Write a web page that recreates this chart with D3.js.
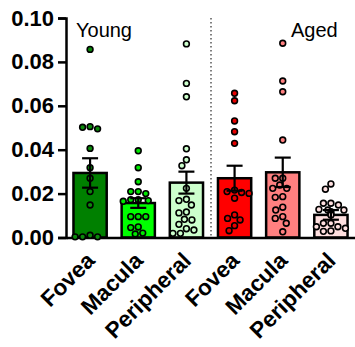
<!DOCTYPE html>
<html>
<head>
<meta charset="utf-8">
<script src="https://cdn.jsdelivr.net/npm/d3@7"></script>
<style>
	body { margin: 0; background: #fff; }
	svg { display: block; font-family: "Liberation Sans", Arial, sans-serif; }
</style>
</head>
<body>
<svg id="chart" width="355" height="347"></svg>
<script>
"use strict";

// DATA
const categories = ["Fovea", "Macula", "Peripheral", "Fovea", "Macula", "Peripheral"];
const groups = ["Young", "Young", "Young", "Aged", "Aged", "Aged"];
const means = [0.0294, 0.0157, 0.025, 0.027, 0.0297, 0.0103];
const sems = [0.0067, 0.0022, 0.005, 0.0057, 0.0067, 0.0022];
const yTicks = [0, 0.02, 0.04, 0.06, 0.08, 0.1];

const youngFovea = [0.0857, 0.0505, 0.0495, 0.0502, 0.0406, 0.0318, 0.027, 0.0209, 0.0148, 0.0003, 0.0003, 0.0003, 0.001];
const youngMacula = [0.0395, 0.0318, 0.0254, 0.0209, 0.02, 0.0209, 0.0172, 0.0168, 0.0165, 0.0172, 0.0095, 0.0095, 0.0095, 0.0048, 0.0045, 0.0016, 0.002];
const youngPeripheral = [0.0882, 0.0702, 0.0641, 0.0404, 0.0354, 0.0327, 0.0224, 0.0174, 0.0168, 0.0148, 0.0112, 0.0116, 0.0083, 0.008, 0.006, 0.0034, 0.0019, 0.0019, 0.004];
const agedFovea = [0.0657, 0.0623, 0.0531, 0.0482, 0.0429, 0.0216, 0.0205, 0.0179, 0.0201, 0.0209, 0.0087, 0.008, 0.0103, 0.0054, 0.0031];
const agedMacula = [0.0885, 0.0713, 0.0664, 0.0444, 0.027, 0.027, 0.0224, 0.0239, 0.0224, 0.0186, 0.0183, 0.0138, 0.0125, 0.0087, 0.0095, 0.0065, 0.0026];
const agedPeripheral = [0.0244, 0.022, 0.0148, 0.0156, 0.0156, 0.0128, 0.0125, 0.0125, 0.0118, 0.0103, 0.0106, 0.0065, 0.0049, 0.0042, 0.0049, 0.0065, 0.003, 0.0028];
const points = [youngFovea, youngMacula, youngPeripheral, agedFovea, agedMacula, agedPeripheral];

// colours
const barColors = ["#008000", "#00ff00", "#ccffcc", "#ff0000", "#ff8080", "#ffe0e0"];
const dotColors = ["#0b8a0b", "#00e600", "#ccffcc", "#e60000", "#ff8080", "#ffe0e0"];

const svg = d3.select("#chart");
const dotR = 2.9;

const x = d3.scaleBand()
	.domain(d3.range(categories.length))
	.range([66, 355])
	.paddingInner(0.31)
	.paddingOuter(0.155);

const y = d3.scaleLinear().domain([0, 0.1]).range([237.5, 18]);

// bars
svg.append("g")
	.selectAll("rect")
	.data(means)
	.join("rect")
	.attr("x", (d, i) => x(i))
	.attr("y", (d) => y(d))
	.attr("width", x.bandwidth())
	.attr("height", (d) => y(0) - y(d))
	.attr("fill", (d, i) => barColors[i])
	.attr("stroke", "#000")
	.attr("stroke-width", 2.5);

// divider between young and aged
svg.append("line")
	.attr("x1", 211).attr("x2", 211)
	.attr("y1", y(0.1)).attr("y2", y(0))
	.attr("stroke", "#555")
	.attr("stroke-width", 1.5)
	.attr("stroke-dasharray", "1.5,2.5");

// y axis
const yAxis = svg.append("g")
	.attr("transform", "translate(66,0)")
	.call(d3.axisLeft(y).tickValues(yTicks).tickFormat(d3.format(".2f")).tickSize(8).tickPadding(4));
yAxis.select(".domain").attr("stroke-width", 2.5);
yAxis.selectAll(".tick line").attr("stroke-width", 2.5);
yAxis.selectAll("text")
	.attr("font-size", 22)
	.attr("font-weight", "bold")
	.attr("font-family", "Liberation Sans, Arial, sans-serif")
	.attr("fill", "#000");

// x axis
const xAxis = svg.append("g")
	.attr("transform", `translate(0,${y(0)})`)
	.call(d3.axisBottom(x).tickSize(0).tickFormat((i) => categories[i]));
xAxis.select(".domain").attr("stroke-width", 2.5);
xAxis.selectAll("text")
	.attr("font-size", 22.5)
	.attr("font-weight", "bold")
	.attr("font-family", "Liberation Sans, Arial, sans-serif")
	.attr("fill", "#000")
	.attr("text-anchor", "end")
	.attr("dy", null)
	.attr("y", 0)
	.attr("transform", "translate(6,24.5) rotate(-45)");

// simple beeswarm offsets
function swarm(values, cx) {
	const placed = [];
	const sorted = values.slice().sort((a, b) => b - a);
	const minDist = dotR * 2 + 1.6;
	sorted.forEach((v) => {
		const py = y(v);
		let best = 0;
		for (let k = 0; k < 60; k++) {
			const off = (k % 2 === 0 ? 1 : -1) * Math.ceil(k / 2) * 0.5;
			const ok = placed.every((p) => Math.hypot(p.x - (cx + off), p.y - py) >= minDist);
			if (ok) { best = off; break; }
		}
		placed.push({ x: cx + best, y: py });
	});
	return placed;
}

// dots
points.forEach((vals, i) => {
	const cx = x(i) + x.bandwidth() / 2;
	svg.append("g")
		.selectAll("circle")
		.data(swarm(vals, cx))
		.join("circle")
		.attr("cx", (d) => d.x)
		.attr("cy", (d) => d.y)
		.attr("r", dotR)
		.attr("fill", dotColors[i])
		.attr("stroke", "#000")
		.attr("stroke-width", 1.6);
});

// error bars (mean +/- sem)
const err = svg.append("g").attr("stroke", "#000").attr("stroke-width", 2.2);
means.forEach((m, i) => {
	const cx = x(i) + x.bandwidth() / 2;
	err.append("line").attr("x1", cx).attr("x2", cx).attr("y1", y(m - sems[i])).attr("y2", y(m + sems[i]));
	[m - sems[i], m + sems[i]].forEach((v) => {
		err.append("line").attr("x1", cx - 8).attr("x2", cx + 8).attr("y1", y(v)).attr("y2", y(v));
	});
});

// group labels
svg.append("text").attr("x", 76).attr("y", 37).attr("font-size", 20).text(groups[0]);
svg.append("text").attr("x", 291).attr("y", 37).attr("font-size", 20).text(groups[3]);
</script>
</body>
</html>
